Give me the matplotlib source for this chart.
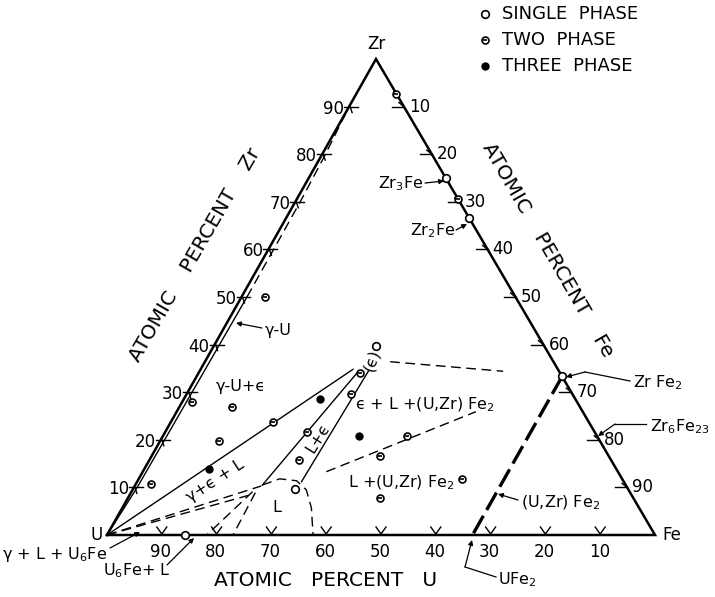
import matplotlib.pyplot as plt
import numpy as np

plt.rcParams['font.family'] = ['DejaVu Sans']
plt.rcParams['mathtext.fontset'] = 'dejavusans'

# compositions in atomic percent: U, Zr, Fe
ticks = [10, 20, 30, 40, 50, 60, 70, 80, 90]

single_U = [0, 0, 0, 85.7, 30.6, 60.7]
single_Zr = [75.0, 66.7, 33.3, 0, 39.8, 9.7]
single_Fe = [25.0, 33.3, 66.7, 14.3, 29.6, 29.6]

two_U = [0, 0, 36.4, 40.4, 57.6, 52.5, 56.9, 70.3, 63.6, 69.5, 86.4, 45.8, 34.6, 41.7, 29.3, 46.3]
two_Zr = [92.7, 70.6, 34.1, 29.7, 23.8, 21.7, 15.8, 28.0, 26.8, 19.8, 10.8, 49.9, 20.9, 16.6, 11.8, 7.8]
two_Fe = [7.3, 29.4, 29.5, 29.9, 18.6, 25.8, 27.3, 1.7, 9.6, 10.7, 2.8, 4.3, 44.5, 41.7, 58.9, 45.9]

three_U = [46.7, 43.4, 74.3]
three_Zr = [28.5, 20.9, 13.9]
three_Fe = [24.8, 35.7, 11.8]

# boundary lines (Zr, Fe) pairs
gamma_solid_Zr = [0, 10, 50]
gamma_solid_Fe = [0, 0.6, 1.0]
gamma_dash_Zr = [50, 70, 80, 90]
gamma_dash_Fe = [1.0, 0.9, 0.6, 0]
tie_upper_Zr = [0, 34.8]
tie_upper_Fe = [0, 27.8]
leps_left_Zr = [34.4, 10.5]
leps_left_Fe = [29.0, 23.2]
leps_right_Zr = [34.4, 11.2]
leps_right_Fe = [30.8, 30.0]
eps_dash_Zr = [36.4, 34.4]
eps_dash_Fe = [33.8, 55.4]
low_dash_Zr = [13.3, 25.9]
low_dash_Fe = [33.5, 54.6]
laves_Zr = [33.3, 0]
laves_Fe = [66.7, 66.7]
gl1_Zr = [0, 10.3]
gl1_Fe = [0, 23.1]
gl2_Zr = [0, 8.4]
gl2_Fe = [0, 21.9]
u6_dash_Zr = [9.1, 0]
u6_dash_Fe = [22.1, 18.2]
l_dash_Zr = [8.9, 0]
l_dash_Fe = [22.7, 23.0]
arc_Zr = [10.5, 11.8, 11.4, 9.5, 5.7, 0]
arc_Fe = [23.2, 25.7, 29.0, 31.7, 34.5, 37.6]

S = 1 / 548  # one pixel in data units
ZX, ZY = 269 * S, 476 * S  # Zr corner (drawing is slightly skewed)


def tern(zr, fe):
    zr = np.asarray(zr, float) / 100
    fe = np.asarray(fe, float) / 100
    return fe + zr * ZX, zr * ZY


def pix(px, py):
    return (px - 107) * S, (535 - py) * S


def main():
    fig = plt.figure(figsize=(7.15, 5.97), dpi=100)
    ax = fig.add_axes([0, 0, 1, 1])
    ax.set_xlim(-107 * S, 608 * S)
    ax.set_ylim(-62 * S, 535 * S)
    ax.set_aspect('equal')
    ax.axis('off')
    k = 'black'

    # triangle
    ax.plot([0, 1, ZX, 0], [0, 0, ZY, 0], color=k, lw=1.8, solid_joinstyle='miter')

    # ticks
    for t in ticks:
        x, y = tern(0, 100 - t)
        ax.plot([x - 5 * S, x, x + 5 * S], [8 * S, 1 * S, 8 * S], color=k, lw=1)
        ax.text(x - S, -17 * S, str(t), ha='center', va='center', fontsize=12)
        x, y = tern(t, 0)
        ax.plot([x - 5 * S, x + 9 * S], [y, y], color=k, lw=1)
        ax.plot([x + S, x + 3 * S], [y, y - 6 * S], color=k, lw=1)
        ax.text(x - 5 * S, y - 2 * S, str(t), ha='right', va='center', fontsize=12)
        x, y = tern(100 - t, t)
        ax.plot([x - 12 * S, x], [y, y], color=k, lw=1)
        ax.plot([x - 5 * S, x], [y + 4 * S, y], color=k, lw=1)
        ax.text(x + 5 * S, y, str(t), ha='left', va='center', fontsize=12)

    # corners and axis titles
    ax.text(*pix(376, 44), 'Zr', ha='center', va='center', fontsize=12)
    ax.text(*pix(97, 535), 'U', ha='center', va='center', fontsize=12)
    ax.text(*pix(672, 535), 'Fe', ha='center', va='center', fontsize=12)
    ax.text(*pix(326, 580), 'ATOMIC   PERCENT   U', ha='center', va='center', fontsize=14.5)
    ax.text(*pix(195, 255), 'ATOMIC    PERCENT    Zr', ha='center', va='center',
            fontsize=14.5, rotation=60)
    ax.text(*pix(548, 250), 'ATOMIC    PERCENT    Fe', ha='center', va='center',
            fontsize=14.5, rotation=-60)

    # phase boundaries
    ax.plot(*tern(gamma_solid_Zr, gamma_solid_Fe), color=k, lw=1)
    ax.plot(*tern(gamma_dash_Zr, gamma_dash_Fe), color=k, lw=1, dashes=(7, 4))
    for zr, fe in [(tie_upper_Zr, tie_upper_Fe), (leps_left_Zr, leps_left_Fe),
                   (leps_right_Zr, leps_right_Fe)]:
        ax.plot(*tern(zr, fe), color=k, lw=1)
    for zr, fe in [(eps_dash_Zr, eps_dash_Fe), (low_dash_Zr, low_dash_Fe),
                   (gl1_Zr, gl1_Fe), (gl2_Zr, gl2_Fe), (u6_dash_Zr, u6_dash_Fe),
                   (l_dash_Zr, l_dash_Fe), (arc_Zr, arc_Fe)]:
        ax.plot(*tern(zr, fe), color=k, lw=1, dashes=(7, 4))
    ax.plot(*tern(laves_Zr, laves_Fe), color=k, lw=2.4, dashes=(6, 2))

    # data points
    ax.plot(*tern(single_Zr, single_Fe), 'o', ms=5.5, mfc='white', mec=k, mew=1.2)
    ax.plot(*tern(two_Zr, two_Fe), 'o', ms=5, mfc='white', mec=k, mew=1.2)
    ax.plot(*tern(two_Zr, two_Fe), '_', ms=3.5, mec=k, mew=1.2)
    ax.plot(*tern(three_Zr, three_Fe), 'o', ms=5, color=k)

    # legend
    for i, lab in enumerate(['SINGLE  PHASE', 'TWO  PHASE', 'THREE  PHASE']):
        x, y = pix(485, 14 + 26 * i)
        if i == 0:
            ax.plot(x, y, 'o', ms=5.5, mfc='white', mec=k, mew=1.2)
        elif i == 1:
            ax.plot(x, y, 'o', ms=5, mfc='white', mec=k, mew=1.2)
            ax.plot(x, y, '_', ms=3.5, mec=k, mew=1.2)
        else:
            ax.plot(x, y, 'o', ms=5, color=k)
        ax.text(*pix(502, 14 + 26 * i), lab, ha='left', va='center', fontsize=13)

    # region labels
    fs = 11.5
    ax.text(*pix(241, 386), 'γ-U+ϵ', ha='center', va='center', fontsize=fs)
    ax.text(*pix(372, 360), '(ϵ)', ha='center', va='center', fontsize=fs, rotation=70)
    ax.text(*pix(425, 405), 'ϵ + L +(U,Zr) Fe$_2$', ha='center', va='center', fontsize=fs)
    ax.text(*pix(318, 438), 'L+ϵ', ha='center', va='center', fontsize=fs, rotation=58)
    ax.text(*pix(215, 481), 'γ+ϵ + L', ha='center', va='center', fontsize=fs, rotation=33)
    ax.text(*pix(401, 483), 'L +(U,Zr) Fe$_2$', ha='center', va='center', fontsize=fs)
    ax.text(*pix(277, 507), 'L', ha='center', va='center', fontsize=fs)

    arrow = dict(arrowstyle='-|>', color=k, lw=0.9, mutation_scale=7, shrinkA=0, shrinkB=0)

    def note(text, tpos, start, end, ha='left', va='center', kink=None):
        ax.text(*pix(*tpos), text, ha=ha, va=va, fontsize=fs)
        if kink is not None:
            ax.plot(*zip(pix(*start), pix(*kink)), color=k, lw=0.9)
            start = kink
        ax.annotate('', xy=pix(*end), xytext=pix(*start), arrowprops=arrow)

    note('γ-U', (265, 330), (262, 328), (236, 323))
    note('Zr$_3$Fe', (423, 184), (425, 183), (444, 181), ha='right')
    note('Zr$_2$Fe', (455, 231), (456, 230), (467, 224), ha='right')
    note('Zr Fe$_2$', (633, 383), (630, 381), (566, 377), kink=(585, 372))
    note('Zr$_6$Fe$_{23}$', (650, 427), (646, 424), (598, 436), kink=(615, 424))
    note('(U,Zr) Fe$_2$', (521, 503), (518, 500), (498, 494))
    note('UFe$_2$', (498, 580), (496, 577), (472, 540), kink=(465, 567))
    note('γ + L + U$_6$Fe', (107, 554), (110, 548), (140, 532), ha='right')
    note('U$_6$Fe+ L', (103, 571), (167, 565), (194, 538))

    fig.savefig('out.png', dpi=100)


if __name__ == '__main__':
    main()
